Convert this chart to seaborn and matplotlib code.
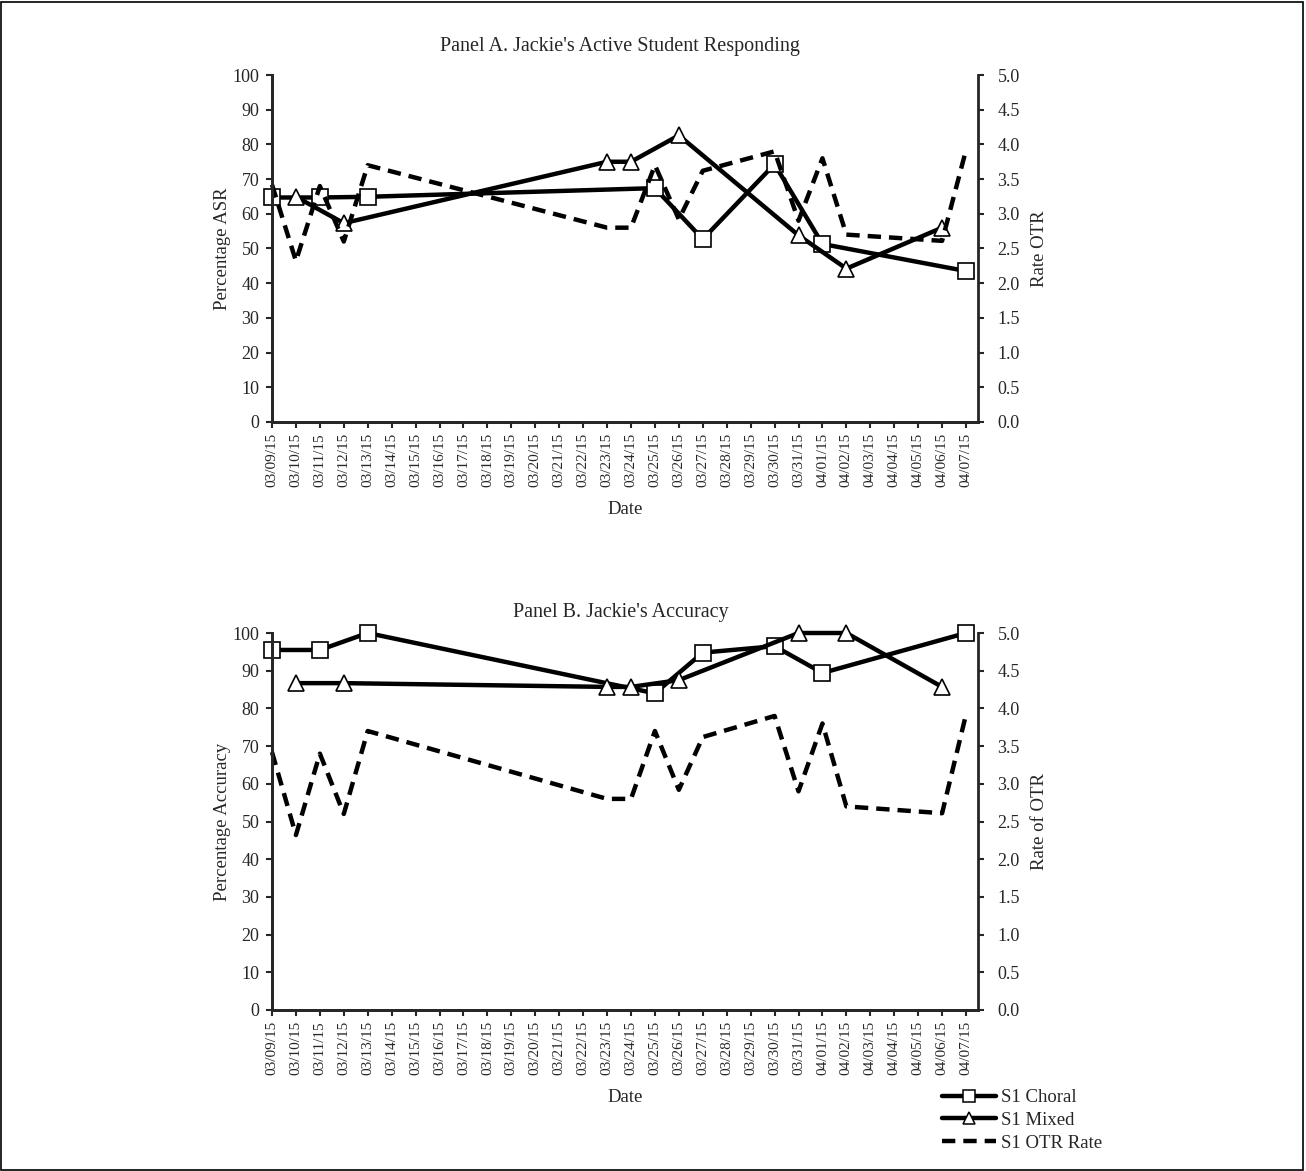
import pandas as pd
import matplotlib
matplotlib.use('Agg')
import matplotlib.pyplot as plt
from matplotlib.lines import Line2D
from matplotlib.patches import Rectangle
import seaborn as sns

# all calendar days on the x axis
dates = ["03/09/15", "03/10/15", "03/11/15", "03/12/15", "03/13/15", "03/14/15",
         "03/15/15", "03/16/15", "03/17/15", "03/18/15", "03/19/15", "03/20/15",
         "03/21/15", "03/22/15", "03/23/15", "03/24/15", "03/25/15", "03/26/15",
         "03/27/15", "03/28/15", "03/29/15", "03/30/15", "03/31/15", "04/01/15",
         "04/02/15", "04/03/15", "04/04/15", "04/05/15", "04/06/15", "04/07/15"]

choral_dates = ["03/09/15", "03/11/15", "03/13/15", "03/25/15", "03/27/15",
                "03/30/15", "04/01/15", "04/07/15"]
mixed_dates = ["03/10/15", "03/12/15", "03/23/15", "03/24/15", "03/26/15",
               "03/31/15", "04/02/15", "04/06/15"]
otr_dates = ["03/09/15", "03/10/15", "03/11/15", "03/12/15", "03/13/15", "03/23/15",
             "03/24/15", "03/25/15", "03/26/15", "03/27/15", "03/30/15", "03/31/15",
             "04/01/15", "04/02/15", "04/06/15", "04/07/15"]

asr_choral = [64.7, 64.7, 64.9, 67.4, 52.7, 74.3, 51.3, 43.5]
asr_mixed = [64.9, 57.3, 75.0, 75.0, 82.6, 53.8, 44.2, 56.0]
acc_choral = [95.5, 95.5, 100.0, 84.0, 94.8, 96.5, 89.4, 100.0]
acc_mixed = [86.7, 86.7, 85.7, 85.7, 87.5, 100.0, 100.0, 85.7]
otr_rate = [3.42, 2.32, 3.40, 2.60, 3.70, 2.80, 2.80, 3.70, 2.92, 3.62,
            3.90, 2.90, 3.80, 2.70, 2.61, 3.92]

pos = {d: i for i, d in enumerate(dates)}

sns.set_theme(style="ticks")
plt.rcParams['font.family'] = ['Liberation Serif', 'DejaVu Serif']

W, H = 1306, 1171
fig = plt.figure(figsize=(W / 100, H / 100), dpi=100)
fig.patches.append(Rectangle((0.001, 0.001), 0.997, 0.997, transform=fig.transFigure,
                             fill=False, edgecolor='black', linewidth=1.2))

LW = 3.2
DASH = (0, (3, 1.8))


def frac(left, top, right, bottom):
    return [left / W, 1 - bottom / H, (right - left) / W, (bottom - top) / H]


def draw_panel(rect, title, title_y, ylabel, ylabel2, choral, mixed):
    ax = fig.add_axes(rect)
    d1 = pd.DataFrame({'x': [pos[d] for d in choral_dates], 'y': choral})
    d2 = pd.DataFrame({'x': [pos[d] for d in mixed_dates], 'y': mixed})
    sns.lineplot(data=d1, x='x', y='y', ax=ax, color='black', linewidth=LW,
                 marker='s', markersize=11, markerfacecolor='white',
                 markeredgecolor='black', markeredgewidth=1.2, clip_on=False)
    sns.lineplot(data=d2, x='x', y='y', ax=ax, color='black', linewidth=LW,
                 marker='^', markersize=12, markerfacecolor='white',
                 markeredgecolor='black', markeredgewidth=1.2, clip_on=False)
    ax.set_ylim(0, 100)
    ax.set_yticks(range(0, 101, 10))
    ax.set_xlim(0, 29.5)
    ax.set_xticks(range(len(dates)))
    ax.set_xticklabels(dates, rotation=90, fontsize=11)
    ax.tick_params(axis='y', labelsize=13, width=1.5, length=4, pad=5, direction='out')
    ax.tick_params(axis='x', width=1.5, length=4, direction='out', pad=4)
    ax.set_xlabel('Date', fontsize=13.5, labelpad=10)
    ax.set_ylabel(ylabel, fontsize=13.5, labelpad=1)
    fig.text(0.475, 1 - title_y / H, title, fontsize=14.5, ha='center', va='center')

    ax2 = ax.twinx()
    d3 = pd.DataFrame({'x': [pos[d] for d in otr_dates], 'y': otr_rate})
    sns.lineplot(data=d3, x='x', y='y', ax=ax2, color='black', linewidth=LW,
                 linestyle=DASH, clip_on=False)
    ax2.set_ylim(0, 5)
    ax2.set_yticks([i / 2 for i in range(11)])
    ax2.set_yticklabels([f"{i / 2:.1f}" for i in range(11)])
    ax2.tick_params(axis='y', labelsize=13, width=1.5, length=4, pad=10, direction='out')
    ax2.set_ylabel(ylabel2, fontsize=13.5, labelpad=8)
    ax2.set_xlim(0, 29.5)

    for a in (ax, ax2):
        a.spines['top'].set_visible(False)
        for s in ('left', 'right', 'bottom'):
            a.spines[s].set_linewidth(2)
    ax.spines['right'].set_visible(False)
    return ax


draw_panel(frac(272, 75, 978, 422), "Panel A. Jackie's Active Student Responding", 46,
           'Percentage ASR', 'Rate OTR', asr_choral, asr_mixed)
draw_panel(frac(272, 633, 978, 1010), "Panel B. Jackie's Accuracy", 613,
           'Percentage Accuracy', 'Rate of OTR', acc_choral, acc_mixed)

handles = [
    Line2D([], [], color='black', linewidth=LW, marker='s', markersize=8.5,
           markerfacecolor='white', markeredgecolor='black', markeredgewidth=1.1),
    Line2D([], [], color='black', linewidth=LW, marker='^', markersize=9,
           markerfacecolor='white', markeredgecolor='black', markeredgewidth=1.1),
    Line2D([], [], color='black', linewidth=LW, linestyle=DASH),
]
fig.legend(handles, ['S1 Choral', 'S1 Mixed', 'S1 OTR Rate'], loc='upper left',
           bbox_to_anchor=(942 / W, 1 - 1089 / H), frameon=False, fontsize=13.5,
           handlelength=2.9, handletextpad=0.25, labelspacing=0.3, borderpad=0,
           borderaxespad=0)

plt.savefig('out.png', dpi=100)
